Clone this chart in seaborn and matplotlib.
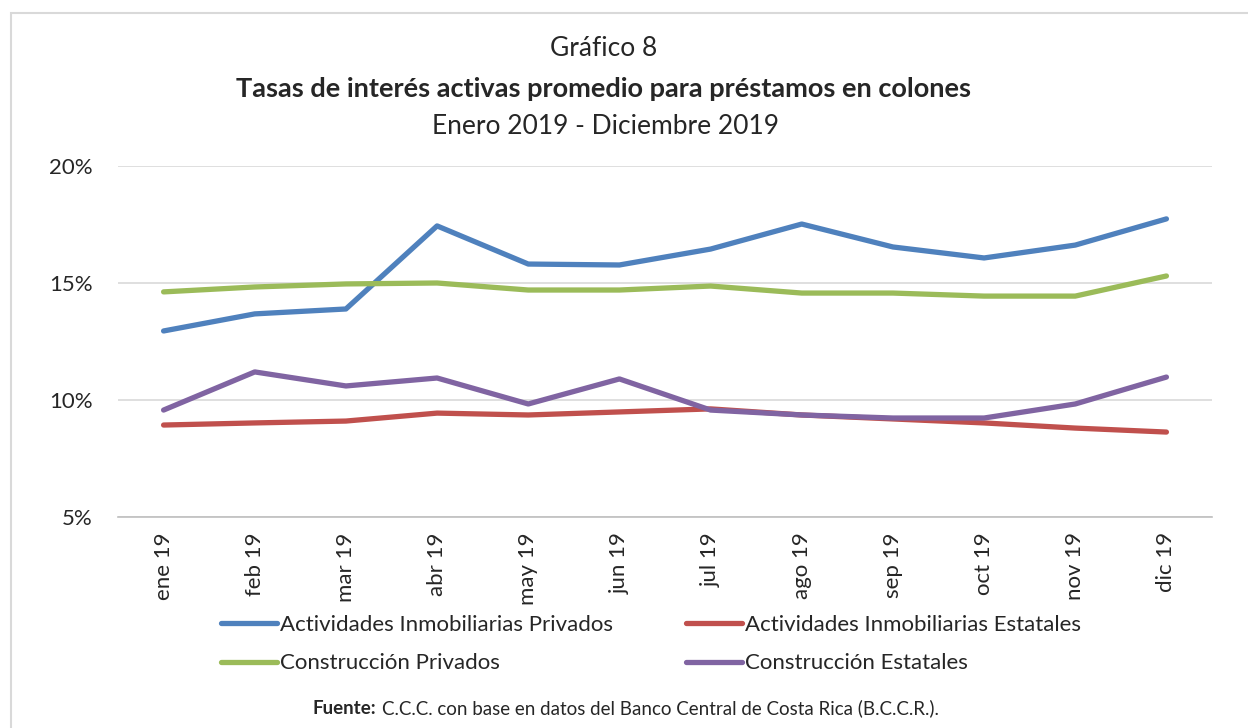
import matplotlib
matplotlib.use("Agg")
import matplotlib.pyplot as plt
from matplotlib.patches import Rectangle
import numpy as np
import pandas as pd
import seaborn as sns

# data (percent)
meses = ["ene 19", "feb 19", "mar 19", "abr 19", "may 19", "jun 19",
         "jul 19", "ago 19", "sep 19", "oct 19", "nov 19", "dic 19"]
act_inm_privados = [12.95, 13.68, 13.89, 17.44, 15.81, 15.77, 16.45, 17.52, 16.54, 16.07, 16.62, 17.74]
act_inm_estatales = [8.93, 9.02, 9.10, 9.44, 9.36, 9.49, 9.62, 9.36, 9.19, 9.02, 8.80, 8.63]
constr_privados = [14.62, 14.83, 14.96, 15.00, 14.70, 14.70, 14.87, 14.57, 14.57, 14.44, 14.44, 15.30]
constr_estatales = [9.57, 11.20, 10.60, 10.94, 9.83, 10.90, 9.57, 9.36, 9.23, 9.23, 9.83, 10.98]

series_names = ["Actividades Inmobiliarias Privados", "Actividades Inmobiliarias Estatales",
                "Construcción Privados", "Construcción Estatales"]
colores = ["#4F81BD", "#C0504D", "#9BBB59", "#8064A2"]

df = pd.DataFrame({
    "x": list(range(len(meses))) * 4,
    "tasa": act_inm_privados + act_inm_estatales + constr_privados + constr_estatales,
    "serie": np.repeat(series_names, len(meses)),
})

sns.set_style("white")
plt.rcParams["font.family"] = ["Lato", "DejaVu Sans"]

fig = plt.figure(figsize=(12.48, 7.28), dpi=100)
ax = fig.add_axes([118 / 1248, 1 - 517 / 728, (1212 - 118) / 1248, (517 - 166) / 728])

sns.lineplot(data=df, x="x", y="tasa", hue="serie", hue_order=series_names,
             palette=colores, linewidth=3.8, ax=ax, legend=False)
for ln in ax.lines:
    ln.set_solid_capstyle("round")
    ln.set_solid_joinstyle("round")

ax.set_xlim(-0.5, len(meses) - 0.5)
ax.set_ylim(5, 20)
ax.set_yticks([5, 10, 15, 20])
ax.set_yticklabels([f"{v}%" for v in [5, 10, 15, 20]], fontsize=16)
ax.yaxis.grid(True, color="#D9D9D9", linewidth=1.2)
ax.set_axisbelow(True)
ax.tick_params(axis="y", length=0, pad=18)

ax.set_xticks(range(len(meses)))
ax.set_xticklabels(meses, rotation=90, fontsize=16)
ax.set_xticks(np.arange(-0.5, len(meses), 1), minor=True)
ax.tick_params(axis="x", which="major", length=0, pad=11)
ax.tick_params(axis="x", which="minor", length=5, color="#BFBFBF", width=1)
ax.set_xlabel("")
ax.set_ylabel("")

for s in ["top", "right", "left"]:
    ax.spines[s].set_visible(False)
ax.spines["bottom"].set_color("#BFBFBF")
ax.spines["bottom"].set_linewidth(1.2)

# legend, two columns, filled row-wise like the original
handles = [plt.Line2D([], [], color=c, linewidth=3.8, solid_capstyle="round") for c in colores]
order = [0, 2, 1, 3]
fig.legend([handles[i] for i in order], [series_names[i] for i in order],
           loc="center", bbox_to_anchor=(651 / 1248, 1 - 644 / 728), ncol=2,
           frameon=False, fontsize=16, handlelength=2.5, handletextpad=0.15,
           columnspacing=3.3, labelspacing=0.85)

# titles
fig.text(604 / 1248, 1 - 48 / 728, "Gráfico 8", ha="center", va="center", fontsize=19)
fig.text(604 / 1248, 1 - 89 / 728, "Tasas de interés activas promedio para préstamos en colones",
         ha="center", va="center", fontsize=19.5, fontweight="bold")
fig.text(606 / 1248, 1 - 126 / 728, "Enero 2019 - Diciembre 2019", ha="center", va="center", fontsize=19)

# source note: bold label followed by normal text on the same baseline
fuente = fig.text(313 / 1248, 1 - 717 / 728, "Fuente:", ha="left", va="bottom",
                  fontsize=13.5, fontweight="bold")
ax.annotate("C.C.C. con base en datos del Banco Central de Costa Rica (B.C.C.R.).",
            xy=(1, 0), xycoords=fuente, xytext=(4, 0), textcoords="offset points",
            ha="left", va="bottom", fontsize=13.5, annotation_clip=False)

# outer chart frame
fig.patches.append(Rectangle((11 / 1248, -0.05), 1.1, 1.05 - 13 / 728, transform=fig.transFigure,
                             fill=False, edgecolor="#D9D9D9", linewidth=1.5))

fig.savefig("out.png", dpi=100)
